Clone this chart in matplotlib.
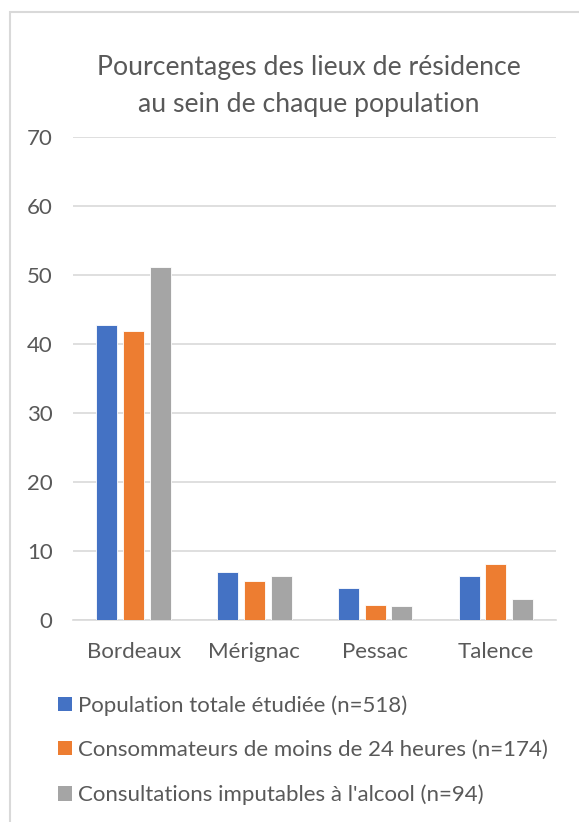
import matplotlib
matplotlib.use("Agg")
import matplotlib.pyplot as plt
import numpy as np
from matplotlib.patches import Patch

categories = ["Bordeaux", "Mérignac", "Pessac", "Talence"]
series_names = ["Population totale étudiée (n=518)",
                "Consommateurs de moins de 24 heures (n=174)",
                "Consultations imputables à l'alcool (n=94)"]
pop_totale = [42.7, 6.9, 4.6, 6.4]
conso_24h = [41.9, 5.7, 2.2, 8.1]
consult_alcool = [51.1, 6.4, 2.0, 3.1]
colors = ["#4472C4", "#ED7D31", "#A5A5A5"]
yticks = [0, 10, 20, 30, 40, 50, 60, 70]
title = "Pourcentages des lieux de résidence\nau sein de chaque population"

plt.rcParams['font.family'] = ['Lato', 'DejaVu Sans']
text_color = "#595959"

W, H = 579, 822
fig = plt.figure(figsize=(W / 100, H / 100), dpi=100)

# outer chart border (left & top visible)
fig.add_artist(plt.Rectangle((10 / W, -0.1), 1.2, (H - 12) / H + 0.1,
                             transform=fig.transFigure, fill=False,
                             edgecolor="#D9D9D9", linewidth=1.5))

ax = fig.add_axes([73.3 / W, (H - 620) / H, 483 / W, 483 / H])
x = np.arange(len(categories))
width = 0.174
offset = 0.221
for i, (vals, c) in enumerate(zip([pop_totale, conso_24h, consult_alcool], colors)):
    ax.bar(x + (i - 1) * offset, vals, width, color=c, edgecolor="white",
           linewidth=0.6, zorder=3)

ax.set_xlim(-0.5, len(categories) - 0.5)
ax.set_ylim(0, 70)
ax.set_yticks(yticks)
ax.set_yticklabels([str(v) for v in yticks])
ax.set_xticks(x)
ax.set_xticklabels(categories)
ax.tick_params(axis='both', length=0, labelsize=16, colors=text_color)
ax.tick_params(axis='y', pad=15)
ax.tick_params(axis='x', pad=16)
ax.grid(axis='y', color="#D9D9D9", linewidth=1.2, zorder=0)
for s in ["top", "right", "left"]:
    ax.spines[s].set_visible(False)
ax.spines["bottom"].set_color("#D9D9D9")
ax.spines["bottom"].set_linewidth(1.2)

fig.text(308.5 / W, 1 - 86 / H, title, ha="center", va="center",
         fontsize=19.2, color=text_color, linespacing=1.62)

handles = [Patch(facecolor=c, edgecolor="none") for c in colors]
fig.legend(handles, series_names, loc="upper left",
           bbox_to_anchor=(38 / W, 1 - 675 / H), frameon=False,
           fontsize=16, labelcolor=text_color, handlelength=0.63,
           handleheight=0.63, handletextpad=0.27, labelspacing=1.1)

fig.savefig("out.png", dpi=100, facecolor="white")
